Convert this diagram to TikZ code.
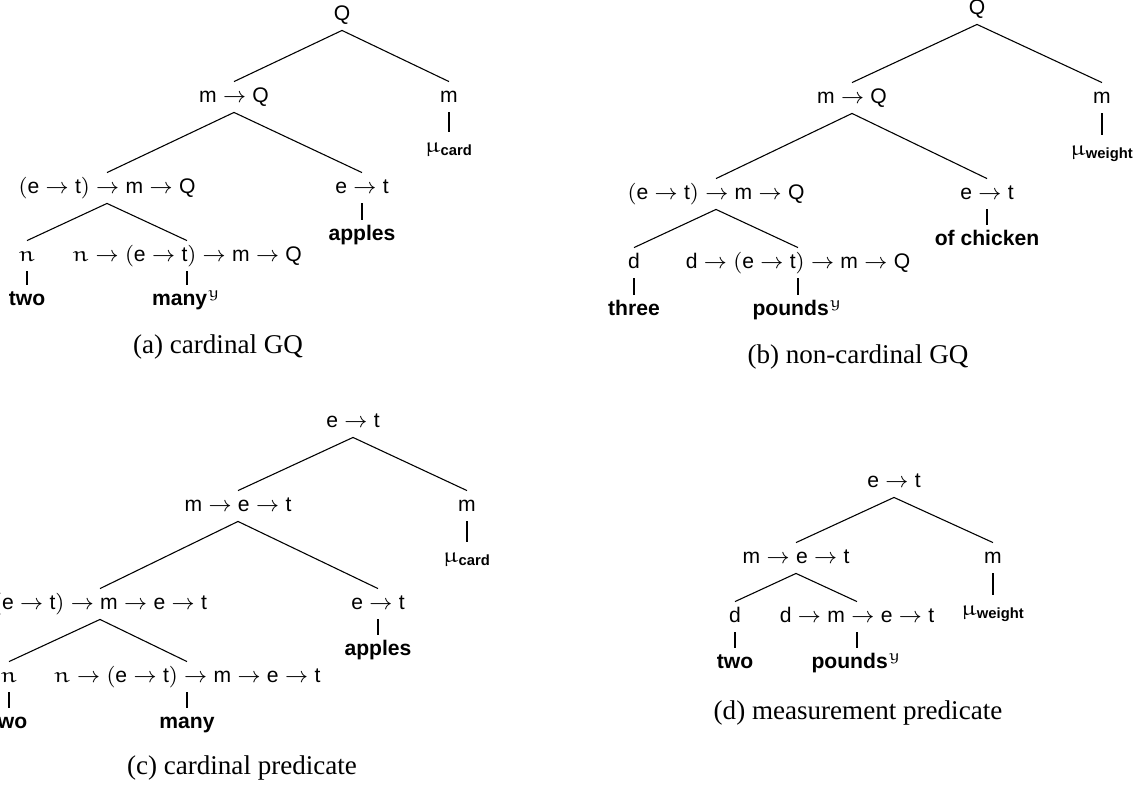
\documentclass[tikz,border=0pt]{standalone}
\usepackage{amsmath}
\usepackage{fontspec}
\setmainfont{Liberation Serif}
\setsansfont{Liberation Sans}
\usepackage{tikz}
\DeclareSymbolFont{eulerletters}{U}{eur}{m}{n}
\DeclareMathSymbol{\eumu}{\mathord}{eulerletters}{"16}
\DeclareMathAlphabet{\mathey}{U}{eur}{m}{n}
\newcommand{\ty}[1]{\text{#1}}
\newcommand{\lexw}[1]{\textbf{#1}}

\begin{document}
\begin{tikzpicture}[
  x=0.01298cm, y=-0.01298cm,
  type/.style={font=\sffamily\fontsize{7.8}{10}\selectfont, inner sep=1.5pt, text height=6pt, text depth=2pt},
  leaf/.style={type, font=\sffamily\bfseries\fontsize{7.8}{10}\selectfont},
  subcap/.style={font=\fontsize{10}{12}\selectfont, inner sep=0pt},
  branch/.style={line width=0.4pt}
]
\useasboundingbox (0,0) rectangle (1140,788);

% (a) cardinal GQ
\node[type] (aQ) at (342,15) {$\ty{Q}$};
\node[type] (amQ) at (234,97) {$\ty{m}\to\ty{Q}$};
\node[type] (am) at (449,97) {$\ty{m}$};
\node[type] (amu) at (449,147) {$\eumu_{\text{\bfseries card}}$};
\node[type] (aetmQ) at (107,188) {$(\ty{e}\to\ty{t})\to\ty{m}\to\ty{Q}$};
\node[type] (aet) at (362,188) {$\ty{e}\to\ty{t}$};
\node[leaf] (aapples) at (362,235) {apples};
\node[type] (an) at (27,256) {$\mathey{n}$};
\node[type] (anetmQ) at (187,256) {$\mathey{n}\to(\ty{e}\to\ty{t})\to\ty{m}\to\ty{Q}$};
\node[leaf] (atwo) at (27,300) {two};
\node[leaf] (amany) at (187,300) {many$^{\mathey{y}}$};
\node[subcap] (acap) at (218,347) {(a) cardinal GQ};
\draw[branch] (aQ.south) -- (amQ.north);
\draw[branch] (aQ.south) -- (am.north);
\draw[branch] (am.south) -- (amu.north);
\draw[branch] (amQ.south) -- (aetmQ.north);
\draw[branch] (amQ.south) -- (aet.north);
\draw[branch] (aet.south) -- (aapples.north);
\draw[branch] (aetmQ.south) -- (an.north);
\draw[branch] (aetmQ.south) -- (anetmQ.north);
\draw[branch] (an.south) -- (atwo.north);
\draw[branch] (anetmQ.south) -- (amany.north);

% (b) non-cardinal GQ
\node[type] (bQ) at (977,9) {$\ty{Q}$};
\node[type] (bmQ) at (852,98) {$\ty{m}\to\ty{Q}$};
\node[type] (bm) at (1102,98) {$\ty{m}$};
\node[type] (bmu) at (1102,150) {$\eumu_{\text{\bfseries weight}}$};
\node[type] (betmQ) at (716,194) {$(\ty{e}\to\ty{t})\to\ty{m}\to\ty{Q}$};
\node[type] (bet) at (987,194) {$\ty{e}\to\ty{t}$};
\node[leaf] (bchicken) at (987,240) {of chicken};
\node[type] (bd) at (634,263) {$\ty{d}$};
\node[type] (bdetmQ) at (798,263) {$\ty{d}\to(\ty{e}\to\ty{t})\to\ty{m}\to\ty{Q}$};
\node[leaf] (bthree) at (634,310) {three};
\node[leaf] (bpounds) at (798,310) {pounds$^{\mathey{y}}$};
\node[subcap] (bcap) at (858,357) {(b) non-cardinal GQ};
\draw[branch] (bQ.south) -- (bmQ.north);
\draw[branch] (bQ.south) -- (bm.north);
\draw[branch] (bm.south) -- (bmu.north);
\draw[branch] (bmQ.south) -- (betmQ.north);
\draw[branch] (bmQ.south) -- (bet.north);
\draw[branch] (bet.south) -- (bchicken.north);
\draw[branch] (betmQ.south) -- (bd.north);
\draw[branch] (betmQ.south) -- (bdetmQ.north);
\draw[branch] (bd.south) -- (bthree.north);
\draw[branch] (bdetmQ.south) -- (bpounds.north);

% (c) cardinal predicate
\node[type] (cet) at (353,422) {$\ty{e}\to\ty{t}$};
\node[type] (cmet) at (238,506) {$\ty{m}\to\ty{e}\to\ty{t}$};
\node[type] (cm) at (467,506) {$\ty{m}$};
\node[type] (cmu) at (467,557) {$\eumu_{\text{\bfseries card}}$};
\node[type] (cetmet) at (100,604) {$(\ty{e}\to\ty{t})\to\ty{m}\to\ty{e}\to\ty{t}$};
\node[type] (cetb) at (378,604) {$\ty{e}\to\ty{t}$};
\node[leaf] (capples) at (378,650) {apples};
\node[type] (cn) at (9,677) {$\mathey{n}$};
\node[type] (cnetmet) at (187,677) {$\mathey{n}\to(\ty{e}\to\ty{t})\to\ty{m}\to\ty{e}\to\ty{t}$};
\node[leaf] (ctwo) at (9,723) {two};
\node[leaf] (cmany) at (187,723) {many};
\node[subcap] (ccap) at (242,768) {(c) cardinal predicate};
\draw[branch] (cet.south) -- (cmet.north);
\draw[branch] (cet.south) -- (cm.north);
\draw[branch] (cm.south) -- (cmu.north);
\draw[branch] (cmet.south) -- (cetmet.north);
\draw[branch] (cmet.south) -- (cetb.north);
\draw[branch] (cetb.south) -- (capples.north);
\draw[branch] (cetmet.south) -- (cn.north);
\draw[branch] (cetmet.south) -- (cnetmet.north);
\draw[branch] (cn.south) -- (ctwo.north);
\draw[branch] (cnetmet.south) -- (cmany.north);

% (d) measurement predicate
\node[type] (det) at (894,482) {$\ty{e}\to\ty{t}$};
\node[type] (dmet) at (796,558) {$\ty{m}\to\ty{e}\to\ty{t}$};
\node[type] (dm) at (993,558) {$\ty{m}$};
\node[type] (dmu) at (993,610) {$\eumu_{\text{\bfseries weight}}$};
\node[type] (dd) at (735,617) {$\ty{d}$};
\node[type] (ddmet) at (857,617) {$\ty{d}\to\ty{m}\to\ty{e}\to\ty{t}$};
\node[leaf] (dtwo) at (735,663) {two};
\node[leaf] (dpounds) at (857,663) {pounds$^{\mathey{y}}$};
\node[subcap] (dcap) at (858,713) {(d) measurement predicate};
\draw[branch] (det.south) -- (dmet.north);
\draw[branch] (det.south) -- (dm.north);
\draw[branch] (dm.south) -- (dmu.north);
\draw[branch] (dmet.south) -- (dd.north);
\draw[branch] (dmet.south) -- (ddmet.north);
\draw[branch] (dd.south) -- (dtwo.north);
\draw[branch] (ddmet.south) -- (dpounds.north);
\end{tikzpicture}
\end{document}
